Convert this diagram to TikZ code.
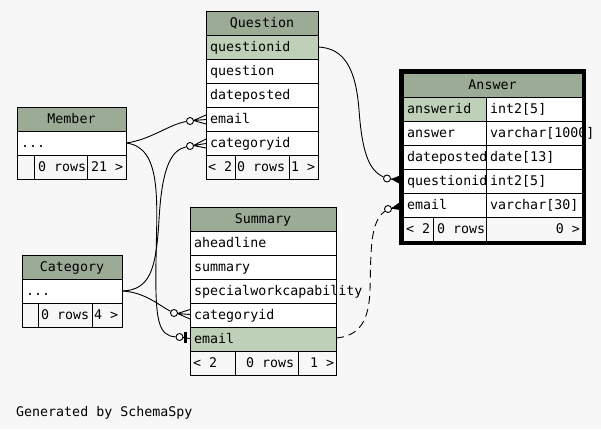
\documentclass[tikz,border=0pt]{standalone}
\usepackage{fontspec}
\newfontfamily\erfont{DejaVu Sans Mono}
\definecolor{bg}{HTML}{F7F7F7}
\definecolor{hdr}{HTML}{9BAB96}
\definecolor{key}{HTML}{BED1B8}
\tikzset{
  txt/.style={font=\erfont\fontsize{13.3}{14}\selectfont, inner sep=0pt},
  grid/.style={line width=1pt, draw=black},
  conn/.style={line width=0.9pt, draw=black},
  odot/.style={circle, draw=black, line width=0.9pt, fill=white, minimum size=7pt, inner sep=0pt},
}
% header cell: name, left, top, right, text
\newcommand\ehead[5]{\draw[grid,fill=hdr] (#2,#3) rectangle (#4,#3+24);
  \node[txt,anchor=base] (#1) at ({(#2+#4)/2},#3+16) {#5};}
% row cell: name, left, top, right, fill, text
\newcommand\erow[6]{\draw[grid,fill=#5] (#2,#3) rectangle (#4,#3+24);
  \node[txt,anchor=base west] (#1) at (#2+4,#3+16) {#6};}
\begin{document}
\begin{tikzpicture}[x=1pt,y=-1pt]
\fill[bg] (0,0) rectangle (601,429);
\useasboundingbox (0,0) rectangle (601,429);

% ports
\coordinate (qQid) at (318,47);
\coordinate (mR) at (126,143);
\coordinate (cR) at (122,291);
\coordinate (sEp) at (336,338);

% marker circles
\node[odot] (qEc) at (190,121) {};
\node[odot] (qCc) at (190,146) {};
\node[odot] (sCc) at (174,313) {};
\node[odot] (sEc) at (179.5,337) {};
\node[odot] (aQc) at (387,178.5) {};
\node[odot] (aEc) at (388,209) {};

% connectors
\draw[conn] (qQid) .. controls (345,48) and (356,70) .. (359,110)
  .. controls (362,150) and (368,170) .. (aQc);
\draw[conn, dash pattern=on 8pt off 5pt] (sEp) .. controls (360,336) and (369,320) .. (370,290)
  .. controls (371,250) and (370,222) .. (aEc);
\draw[conn] (mR) .. controls (150,140) and (170,124) .. (qEc);
\draw[conn] (mR) .. controls (162,147) and (157,200) .. (156,260)
  .. controls (155,320) and (158,336) .. (sEc);
\draw[conn] (cR) .. controls (150,290) and (156,270) .. (159,220)
  .. controls (162,165) and (172,150) .. (qCc);
\draw[conn] (cR) .. controls (145,292) and (160,306) .. (sCc);

% crow's feet
\draw[conn] (193.5,120.5) -- (206,115) (193.5,120.5) -- (206,119.5) (193.5,120.5) -- (206,124);
\draw[conn] (193.5,145.5) -- (206,139) (193.5,145.5) -- (206,143.5) (193.5,145.5) -- (206,148);
\draw[conn] (177.5,313.5) -- (190,309.5) (177.5,313.5) -- (190,314.5) (177.5,313.5) -- (190,319);
\draw[conn] (183,337.5) -- (190,338.5);
\draw[line width=2.5pt] (185.5,332) -- (185.5,343);
\fill (391,179) -- (400,175.5) -- (400,184) -- cycle;
\draw[conn] (390.5,179) -- (400,180.5);
\fill (391,208.5) -- (400,202) -- (400,210) -- cycle;
\draw[conn] (391,208.5) -- (400,205.5);

% ---------- Question ----------
\ehead{qH}{206}{11}{318}{Question}
\erow{qR1}{206}{35}{318}{key}{questionid}
\erow{qR2}{206}{59}{318}{white}{question}
\erow{qR3}{206}{83}{318}{white}{dateposted}
\erow{qR4}{206}{107}{318}{white}{email}
\erow{qR5}{206}{131}{318}{white}{categoryid}
\draw[grid,fill=bg] (206,155) rectangle (318,179);
\draw[grid] (235,155) -- (235,179) (289,155) -- (289,179);
\node[txt,anchor=base west] (qF1) at (208,171) {< 2};
\node[txt,anchor=base west] (qF2) at (237,171) {0 rows};
\node[txt,anchor=base west] (qF3) at (291,171) {1 >};

% ---------- Member ----------
\ehead{mH}{17}{107}{126}{Member}
\erow{mR1}{17}{131}{126}{white}{...}
\draw[grid,fill=bg] (17,155) rectangle (126,179);
\draw[grid] (34,155) -- (34,179) (87,155) -- (87,179);
\node[txt,anchor=base west] (mF2) at (38,171) {0 rows};
\node[txt,anchor=base west] (mF3) at (91,171) {21 >};

% ---------- Category ----------
\ehead{cH}{22}{255}{122}{Category}
\erow{cR1}{22}{279}{122}{white}{...}
\draw[grid,fill=bg] (22,303) rectangle (122,327);
\draw[grid] (38,303) -- (38,327) (92,303) -- (92,327);
\node[txt,anchor=base west] (cF2) at (41,319) {0 rows};
\node[txt,anchor=base west] (cF3) at (94,319) {4 >};

% ---------- Summary ----------
\ehead{sH}{190}{207}{336}{Summary}
\erow{sR1}{190}{231}{336}{white}{aheadline}
\erow{sR2}{190}{255}{336}{white}{summary}
\erow{sR3}{190}{279}{336}{white}{specialworkcapability}
\erow{sR4}{190}{303}{336}{white}{categoryid}
\erow{sR5}{190}{327}{336}{key}{email}
\draw[grid,fill=bg] (190,351) rectangle (336,375);
\draw[grid] (235,351) -- (235,375) (298,351) -- (298,375);
\node[txt,anchor=base west] (sF1) at (193,367) {< 2};
\node[txt,anchor=base west] (sF2) at (246,367) {0 rows};
\node[txt,anchor=base west] (sF3) at (310,367) {1 >};

% ---------- Answer ----------
\ehead{aH}{403}{73}{582}{Answer}
\erow{aN1}{403}{97}{486}{key}{answerid}
\erow{aT1}{486}{97}{582}{white}{int2[5]}
\erow{aN2}{403}{121}{486}{white}{answer}
\erow{aT2}{486}{121}{582}{white}{varchar[1000]}
\erow{aN3}{403}{145}{486}{white}{dateposted}
\erow{aT3}{486}{145}{582}{white}{date[13]}
\erow{aN4}{403}{169}{486}{white}{questionid}
\erow{aT4}{486}{169}{582}{white}{int2[5]}
\erow{aN5}{403}{193}{486}{white}{email}
\erow{aT5}{486}{193}{582}{white}{varchar[30]}
\draw[grid,fill=bg] (403,217) rectangle (582,241);
\draw[grid] (433,217) -- (433,241) (486,217) -- (486,241);
\node[txt,anchor=base west] (aF1) at (406,233) {< 2};
\node[txt,anchor=base west] (aF2) at (437,233) {0 rows};
\node[txt,anchor=base east] (aF3) at (580,233) {0 >};
\draw[line width=3.2pt] (401,71) rectangle (584,243);

% footer note
\node[txt,anchor=base west] (gen) at (16,416) {Generated by SchemaSpy};
\end{tikzpicture}
\end{document}
